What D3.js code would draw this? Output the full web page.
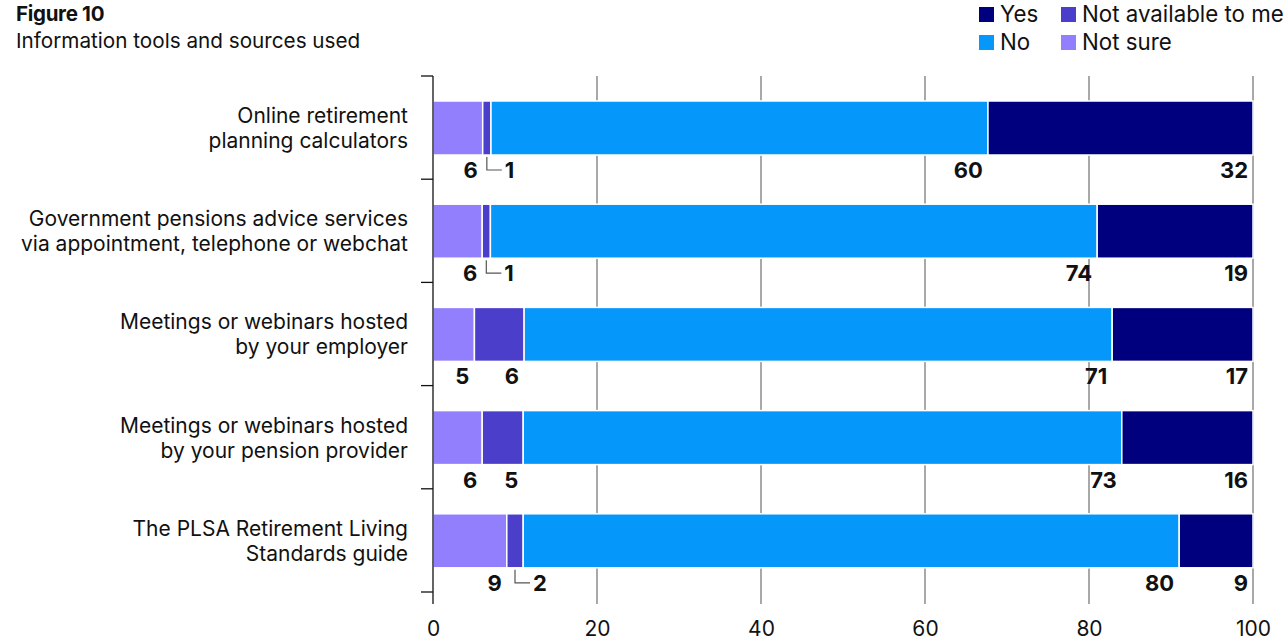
<!DOCTYPE html>
<html>
<head>
<meta charset="utf-8">
<script src="https://cdn.jsdelivr.net/npm/d3@7"></script>
<style>
  html, body { margin: 0; padding: 0; background: #fff; }
  svg { display: block; font-family: Inter, "Noto Sans", sans-serif; }
</style>
</head>
<body>
<svg id="chart" width="1288" height="643"></svg>
<script>
// Survey responses, percent of respondents per information source
const categories = [
  ["Online retirement", "planning calculators"],
  ["Government pensions advice services", "via appointment, telephone or webchat"],
  ["Meetings or webinars hosted", "by your employer"],
  ["Meetings or webinars hosted", "by your pension provider"],
  ["The PLSA Retirement Living", "Standards guide"]
];
const notSure      = [6, 6, 5, 6, 9];
const notAvailable = [1, 1, 6, 5, 2];
const no           = [60, 74, 71, 73, 80];
const yes          = [32, 19, 17, 16, 9];
const xTicks = [0, 20, 40, 60, 80, 100];

const seriesKeys = ["notSure", "notAvailable", "no", "yes"];
const seriesNames = { yes: "Yes", no: "No", notAvailable: "Not available to me", notSure: "Not sure" };
const colors = { yes: "#00007e", no: "#0597f9", notAvailable: "#4a3ecb", notSure: "#917ffd" };

const rows = categories.map((c, i) => ({
  idx: i, notSure: notSure[i], notAvailable: notAvailable[i], no: no[i], yes: yes[i]
}));

const svg = d3.select("#chart");
const W = 1288, H = 643;

const x = d3.scaleLinear().domain([0, 100]).range([433, W - 35]);
const y = d3.scaleBand().domain(d3.range(categories.length)).range([76, 592]).paddingInner(0).paddingOuter(0);

// each row is scaled to a full 100% bar
const stacked = d3.stack().keys(seriesKeys).offset(d3.stackOffsetExpand)(rows);

const barTop = 25, barH = 54;
const gridBottom = 604;
const ink = "#111";

// Title
svg.append("text").attr("x", 16).attr("y", 21).attr("font-size", 20.5).attr("font-weight", 700)
  .attr("letter-spacing", -0.3).attr("fill", ink).text("Figure 10");
svg.append("text").attr("x", 16).attr("y", 48).attr("font-size", 20.7)
  .attr("fill", ink).text("Information tools and sources used");

// Legend
const legendItems = [
  { key: "yes", col: 0, row: 0 }, { key: "notAvailable", col: 1, row: 0 },
  { key: "no", col: 0, row: 1 }, { key: "notSure", col: 1, row: 1 }
];
const legend = svg.append("g");
legendItems.forEach(d => {
  const lx = d.col === 0 ? 979 : 1061;
  const ly = 7 + d.row * 28;
  legend.append("rect").attr("x", lx).attr("y", ly).attr("width", 15).attr("height", 15)
    .attr("fill", colors[d.key]);
  legend.append("text").attr("x", lx + 21).attr("y", ly + 15).attr("font-size", 22.3)
    .attr("fill", ink).text(seriesNames[d.key]);
});

// Gridlines
svg.append("g").selectAll("line").data(xTicks.filter(t => t > 0)).join("line")
  .attr("x1", d => x(d)).attr("x2", d => x(d))
  .attr("y1", 76).attr("y2", gridBottom)
  .attr("stroke", "#7a7a7a").attr("stroke-width", 1.3);

// Bars
const barG = svg.append("g");
stacked.forEach(s => {
  barG.append("g").attr("fill", colors[s.key]).selectAll("rect").data(s).join("rect")
    .attr("x", d => x(d[0] * 100))
    .attr("width", d => Math.max(0, x(d[1] * 100) - x(d[0] * 100)))
    .attr("y", (d, i) => y(i) + barTop)
    .attr("height", barH)
    .attr("stroke", "#fff").attr("stroke-width", 1.5);
});

// Vertical axis line with band ticks
const yAxisG = svg.append("g");
yAxisG.append("line").attr("x1", x(0)).attr("x2", x(0)).attr("y1", 76).attr("y2", gridBottom)
  .attr("stroke", ink).attr("stroke-width", 1.3);
const bounds = d3.range(categories.length + 1).map(i => i < categories.length ? y(i) : y(i - 1) + y.bandwidth());
yAxisG.selectAll("line.tick").data(bounds).join("line").attr("class", "tick")
  .attr("x1", x(0) - 12).attr("x2", x(0)).attr("y1", d => d).attr("y2", d => d)
  .attr("stroke", ink).attr("stroke-width", 1.3);

// Category labels
const catG = svg.append("g");
categories.forEach((lines, i) => {
  const cy = y(i) + barTop + barH / 2;
  const t = catG.append("text").attr("text-anchor", "end").attr("font-size", 21).attr("fill", ink);
  lines.forEach((ln, k) => {
    t.append("tspan").attr("x", 408).attr("y", cy - 12.5 + k * 25 + 7.5).text(ln);
  });
});

// Value labels under each bar
const labG = svg.append("g").attr("font-size", 22).attr("font-weight", 700).attr("fill", ink);
stacked.forEach(s => {
  s.forEach((d, i) => {
    const v = d.data[s.key];
    const x0 = x(d[0] * 100), x1 = x(d[1] * 100);
    const baseY = y(i) + barTop + barH + 23;
    if (s.key === "notAvailable" && v <= 2) {
      const cx = (x0 + x1) / 2;
      const midY = baseY - 8;
      labG.append("path")
        .attr("d", `M${cx},${y(i) + barTop + barH + 2}V${midY}H${cx + 15}`)
        .attr("fill", "none").attr("stroke", "#555").attr("stroke-width", 1.2);
      labG.append("text").attr("x", cx + 18).attr("y", baseY).text(v);
    } else {
      labG.append("text").attr("x", x1 - 5).attr("y", baseY).attr("text-anchor", "end").text(v);
    }
  });
});

// Bottom axis
const xAxis = d3.axisBottom(x).tickValues(xTicks).tickSize(0).tickPadding(0);
const axG = svg.append("g").attr("transform", `translate(0, 621)`).call(xAxis);
axG.select(".domain").remove();
axG.selectAll("text").attr("font-size", 21).attr("font-family", "Inter, 'Noto Sans', sans-serif")
  .attr("fill", ink).attr("dy", "0.71em");
</script>
</body>
</html>
